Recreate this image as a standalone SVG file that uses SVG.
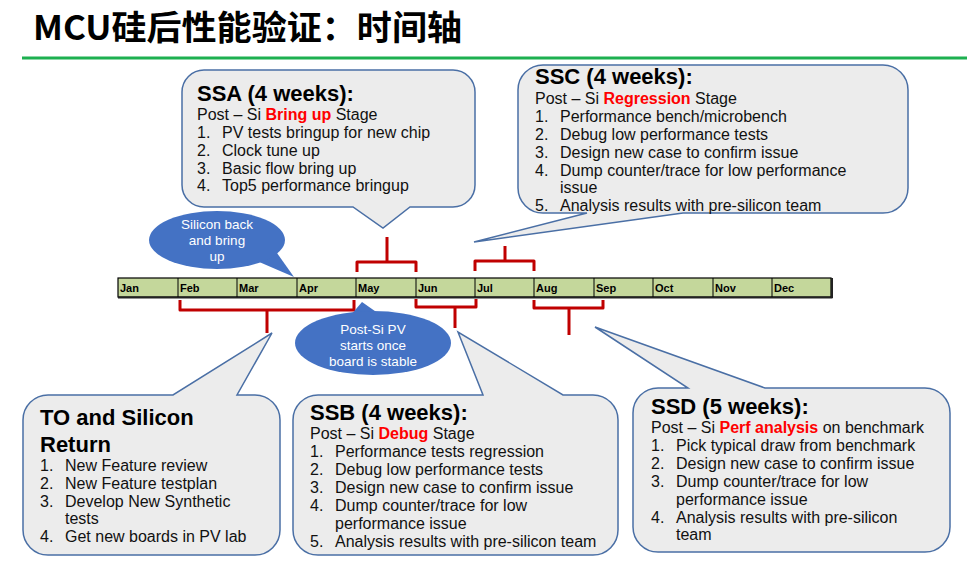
<svg xmlns="http://www.w3.org/2000/svg" width="967" height="562" viewBox="0 0 967 562">
<style>
.t{font-family:"Liberation Sans",Arial,sans-serif;font-size:16px;fill:#111}
.h{font-family:"Liberation Sans",Arial,sans-serif;font-size:22px;font-weight:bold;fill:#000}
.r{fill:#ff0000;font-weight:bold}
.call{fill:#ececec;stroke:#4a6fa5;stroke-width:1.5}
.br{fill:none;stroke:#c00000;stroke-width:3;stroke-linejoin:round}
.m{font-family:"Liberation Sans",Arial,sans-serif;font-size:11px;font-weight:bold;fill:#000}
.b{fill:#4472c4}
.w{font-family:"Liberation Sans",Arial,sans-serif;font-size:13.5px;fill:#fff;text-anchor:middle}
</style>
<text x="33" y="40" font-family="'Noto Sans CJK SC','Noto Sans',sans-serif" font-size="34" font-weight="bold" fill="#000" textLength="429" lengthAdjust="spacingAndGlyphs">MCU硅后性能验证：时间轴</text>
<rect x="22" y="56.5" width="945" height="3" fill="#1db050"/>

<g id="timeline">
<rect x="118" y="278" width="713" height="19" fill="#c4d79b" stroke="#000" stroke-width="1.2"/>
<line x1="118" y1="297.5" x2="832.5" y2="297.5" stroke="#222" stroke-width="2"/>
<line x1="832" y1="278" x2="832" y2="298" stroke="#222" stroke-width="2"/>
<g stroke="#000" stroke-width="1">
<line x1="178" y1="278" x2="178" y2="297"/><line x1="237" y1="278" x2="237" y2="297"/><line x1="297" y1="278" x2="297" y2="297"/><line x1="356" y1="278" x2="356" y2="297"/><line x1="416" y1="278" x2="416" y2="297"/><line x1="475" y1="278" x2="475" y2="297"/><line x1="534" y1="278" x2="534" y2="297"/><line x1="594" y1="278" x2="594" y2="297"/><line x1="653" y1="278" x2="653" y2="297"/><line x1="713" y1="278" x2="713" y2="297"/><line x1="772" y1="278" x2="772" y2="297"/>
</g>
<text class="m" x="120" y="292">Jan</text><text class="m" x="180" y="292">Feb</text><text class="m" x="239" y="292">Mar</text><text class="m" x="299" y="292">Apr</text><text class="m" x="358" y="292">May</text><text class="m" x="418" y="292">Jun</text><text class="m" x="477" y="292">Jul</text><text class="m" x="536" y="292">Aug</text><text class="m" x="596" y="292">Sep</text><text class="m" x="655" y="292">Oct</text><text class="m" x="715" y="292">Nov</text><text class="m" x="774" y="292">Dec</text>
</g>

<g id="connectors">
<path class="br" d="M357,272 V262 H416 V272 M387,262 V237"/>
<path class="br" d="M475,271 V261 H534 V271 M505,261 V246"/>
<path class="br" d="M180,300 V310 H354 V300 M267,310 V333"/>
<path class="br" d="M416,299 V307 H476 V299 M455,307 V328"/>
<path class="br" d="M534,300 V308 H603 V300 M569,308 V335"/>
</g>

<g id="silicon-back">
<path class="b" d="M250,258 L294,277 L272,246 Z"/>
<ellipse class="b" cx="217" cy="240" rx="68" ry="29"/>
<text class="w" x="217" y="229">Silicon back</text>
<text class="w" x="217" y="245">and bring</text>
<text class="w" x="217" y="261">up</text>
</g>

<g id="post-si-pv">
<path class="b" d="M350,316 L362,302 L382,316 Z"/>
<ellipse class="b" cx="373" cy="343" rx="78" ry="32"/>
<text class="w" x="373" y="334">Post-Si PV</text>
<text class="w" x="373" y="350">starts once</text>
<text class="w" x="373" y="366">board is stable</text>
</g>

<g id="ssa">
<path class="call" d="M204,70 H453 A22,22 0 0 1 475,92 V185 A22,22 0 0 1 453,207 H410 L383,228 L353,207 H204 A22,22 0 0 1 182,185 V92 A22,22 0 0 1 204,70 Z"/>
<text class="h" x="197" y="101">SSA (4 weeks):</text>
<text class="t" x="197" y="120">Post – Si <tspan class="r">Bring up</tspan> Stage</text>
<text class="t" x="197" y="138">1.</text><text class="t" x="222" y="138">PV tests bringup for new chip</text>
<text class="t" x="197" y="156">2.</text><text class="t" x="222" y="156">Clock tune up</text>
<text class="t" x="197" y="174">3.</text><text class="t" x="222" y="174">Basic flow bring up</text>
<text class="t" x="197" y="191">4.</text><text class="t" x="222" y="191">Top5 performance bringup</text>
</g>

<g id="ssc">
<path class="call" d="M543,65 H883 A25,25 0 0 1 908,90 V188 A25,25 0 0 1 883,213 H683 L474,242 L587,213 H543 A25,25 0 0 1 518,188 V90 A25,25 0 0 1 543,65 Z"/>
<text class="h" x="535" y="84">SSC (4 weeks):</text>
<text class="t" x="535" y="104">Post – Si <tspan class="r">Regression</tspan> Stage</text>
<text class="t" x="535" y="122">1.</text><text class="t" x="560" y="122">Performance bench/microbench</text>
<text class="t" x="535" y="140">2.</text><text class="t" x="560" y="140">Debug low performance tests</text>
<text class="t" x="535" y="158">3.</text><text class="t" x="560" y="158">Design new case to confirm issue</text>
<text class="t" x="535" y="176">4.</text><text class="t" x="560" y="176">Dump counter/trace for low performance</text>
<text class="t" x="560" y="193">issue</text>
<text class="t" x="535" y="211">5.</text><text class="t" x="560" y="211">Analysis results with pre-silicon team</text>
</g>

<g id="to-silicon-return">
<path class="call" d="M48,395 H173 L272,333 L237,395 H255 A25,25 0 0 1 280,420 V530 A25,25 0 0 1 255,555 H48 A25,25 0 0 1 23,530 V420 A25,25 0 0 1 48,395 Z"/>
<text class="h" x="40" y="425">TO and Silicon</text>
<text class="h" x="40" y="452">Return</text>
<text class="t" x="40" y="471">1.</text><text class="t" x="65" y="471">New Feature review</text>
<text class="t" x="40" y="489">2.</text><text class="t" x="65" y="489">New Feature testplan</text>
<text class="t" x="40" y="507">3.</text><text class="t" x="65" y="507">Develop New Synthetic</text>
<text class="t" x="65" y="524">tests</text>
<text class="t" x="40" y="542">4.</text><text class="t" x="65" y="542">Get new boards in PV lab</text>
</g>

<g id="ssb">
<path class="call" d="M318,395 H483 L458,332 L563,395 H593 A25,25 0 0 1 618,420 V530 A25,25 0 0 1 593,555 H318 A25,25 0 0 1 293,530 V420 A25,25 0 0 1 318,395 Z"/>
<text class="h" x="310" y="420">SSB (4 weeks):</text>
<text class="t" x="310" y="439">Post – Si <tspan class="r">Debug</tspan> Stage</text>
<text class="t" x="310" y="457">1.</text><text class="t" x="335" y="457">Performance tests regression</text>
<text class="t" x="310" y="475">2.</text><text class="t" x="335" y="475">Debug low performance tests</text>
<text class="t" x="310" y="493">3.</text><text class="t" x="335" y="493">Design new case to confirm issue</text>
<text class="t" x="310" y="511">4.</text><text class="t" x="335" y="511">Dump counter/trace for low</text>
<text class="t" x="335" y="529">performance issue</text>
<text class="t" x="310" y="547">5.</text><text class="t" x="335" y="547">Analysis results with pre-silicon team</text>
</g>

<g id="ssd">
<path class="call" d="M658,388 H688 L595,327 L765,388 H925 A25,25 0 0 1 950,413 V527 A25,25 0 0 1 925,552 H658 A25,25 0 0 1 633,527 V413 A25,25 0 0 1 658,388 Z"/>
<text class="h" x="651" y="414">SSD (5 weeks):</text>
<text class="t" x="651" y="433">Post – Si <tspan class="r">Perf analysis</tspan> on benchmark</text>
<text class="t" x="651" y="451">1.</text><text class="t" x="676" y="451">Pick typical draw from benchmark</text>
<text class="t" x="651" y="469">2.</text><text class="t" x="676" y="469">Design new case to confirm issue</text>
<text class="t" x="651" y="487">3.</text><text class="t" x="676" y="487">Dump counter/trace for low</text>
<text class="t" x="676" y="505">performance issue</text>
<text class="t" x="651" y="523">4.</text><text class="t" x="676" y="523">Analysis results with pre-silicon</text>
<text class="t" x="676" y="540">team</text>
</g>
</svg>
